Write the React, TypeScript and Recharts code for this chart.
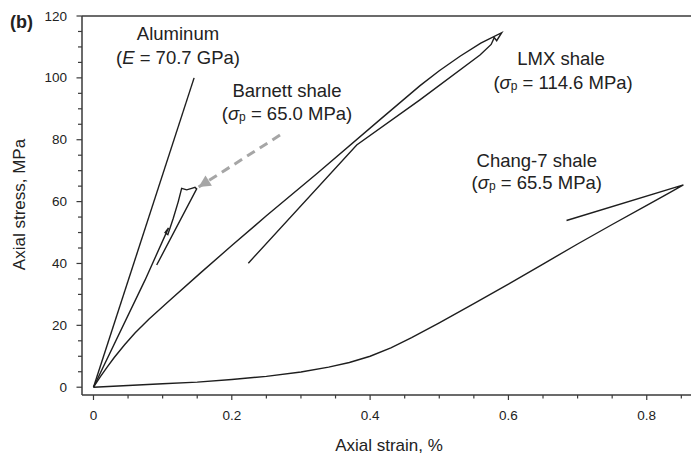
import React from 'react';
import { LineChart, Line, XAxis, YAxis, ReferenceLine, ReferenceDot } from 'recharts';

// ---- tick values & labels ----
const xMajorTicks = [0, 0.2, 0.4, 0.6, 0.8];
const xTickLabels = ['0', '0.2', '0.4', '0.6', '0.8'];
const xMinorTicks = [0.05, 0.1, 0.15, 0.25, 0.3, 0.35, 0.45, 0.5, 0.55, 0.65, 0.7, 0.75, 0.85];
const yMajorTicks = [0, 20, 40, 60, 80, 100, 120];
const yTickLabels = ['0', '20', '40', '60', '80', '100', '120'];
const yMinorTicks = [5, 10, 15, 25, 30, 35, 45, 50, 55, 65, 70, 75, 85, 90, 95, 105, 110, 115];

// ---- series (axial strain %, axial stress MPa) ----
const aluminumStrain = [0, 0.1455];
const aluminumStress = [0, 100];

const barnettStrain = [0, 0.0745, 0.1085, 0.1035, 0.1075, 0.1154, 0.1226, 0.1275, 0.1348, 0.142, 0.1468, 0.1492, 0.0914];
const barnettStress = [0, 34.6, 51.5, 50.0, 49.3, 54.6, 60.0, 64.3, 63.8, 64.3, 64.6, 64.1, 39.5];

const lmxStrain = [0, 0.01, 0.02, 0.03, 0.045, 0.06, 0.08, 0.11, 0.154, 0.2, 0.25, 0.3228, 0.4143, 0.4722, 0.5, 0.53, 0.56, 0.5903, 0.583, 0.5795, 0.575, 0.5589, 0.472, 0.3806, 0.2239];
const lmxStress = [0, 3.4, 6.6, 9.6, 13.7, 17.5, 22.0, 28.0, 36.8, 45.8, 55.4, 69.0, 86.5, 97.5, 102.3, 107.0, 111.2, 114.6, 112.0, 113.0, 110.8, 107.4, 92.9, 78.3, 40.1];

const changStrain = [0, 0.05, 0.1, 0.15, 0.2, 0.25, 0.3, 0.34, 0.37, 0.4, 0.43, 0.46, 0.5, 0.55, 0.6, 0.65, 0.7, 0.75, 0.8, 0.83, 0.853, 0.684];
const changStress = [0, 0.55, 1.1, 1.65, 2.5, 3.5, 4.9, 6.5, 8.0, 10.0, 12.7, 16.0, 20.8, 27.0, 33.3, 39.8, 46.3, 52.6, 58.8, 62.5, 65.4, 53.9];

const arrowStrain = [0.2697, 0.152];
const arrowStress = [81.5, 64.7];

const toPoints = (xs: number[], ys: number[]) => xs.map((x, i) => ({ x, y: ys[i] }));

const aluminumData = toPoints(aluminumStrain, aluminumStress);
const barnettData = toPoints(barnettStrain, barnettStress);
const lmxData = toPoints(lmxStrain, lmxStress);
const changData = toPoints(changStrain, changStress);
const arrowData = toPoints(arrowStrain, arrowStress);

// ---- styles ----
const FONT = '"Liberation Sans", Arial, Helvetica, sans-serif';
const AXIS = '#3a3a3a';
const TEXT = '#222';
const CURVE = '#1e1e1e';
const ARROW = '#a6a6a6';

const XTick = (props: any) => {
  const { x, y, payload } = props;
  const idx = xMajorTicks.indexOf(payload.value);
  const major = idx >= 0;
  return (
    <g>
      <line x1={x} x2={x} y1={y} y2={y + (major ? 5 : 3.5)} stroke={AXIS} strokeWidth={1.2} />
      {major && (
        <text x={x} y={y + 20} textAnchor="middle" dominantBaseline="central" fontSize={13.5} fontFamily={FONT} fill={TEXT}>
          {xTickLabels[idx]}
        </text>
      )}
    </g>
  );
};

const YTick = (props: any) => {
  const { x, y, payload } = props;
  const idx = yMajorTicks.indexOf(payload.value);
  const major = idx >= 0;
  return (
    <g>
      <line x1={x} x2={x - (major ? 5.5 : 4)} y1={y} y2={y} stroke={AXIS} strokeWidth={1.2} />
      {major && (
        <text x={x - 15} y={y} textAnchor="end" dominantBaseline="central" fontSize={13.5} fontFamily={FONT} fill={TEXT}>
          {yTickLabels[idx]}
        </text>
      )}
    </g>
  );
};

const ArrowHead = (props: any) => {
  const { cx, cy, index, points } = props;
  if (!points || index !== points.length - 1) return <g key={`ah-${index}`} />;
  const p0 = points[0];
  const dx = cx - p0.x;
  const dy = cy - p0.y;
  const len = Math.sqrt(dx * dx + dy * dy) || 1;
  const ux = dx / len;
  const uy = dy / len;
  const L = 12;
  const W = 6;
  const bx = cx - ux * L;
  const by = cy - uy * L;
  const pts = `${cx},${cy} ${bx - uy * W},${by + ux * W} ${bx + uy * W},${by - ux * W}`;
  return <polygon key={`ah-${index}`} points={pts} fill={ARROW} stroke="none" />;
};

const Sigma = ({ value }: { value: string }) => (
  <>
    (<tspan fontStyle="italic">σ</tspan>
    <tspan fontSize={12} dy={4}>p</tspan>
    <tspan dy={-4}>{' = ' + value + ' MPa)'}</tspan>
  </>
);

const makeLabel = (content: React.ReactNode) => (p: any) => (
  <text x={p.cx} y={p.cy} textAnchor="middle" dominantBaseline="central" fontSize={18.5} fontFamily={FONT} fill={TEXT}>
    {content}
  </text>
);

const annotations = [
  { key: 'al1', x: 0.1222, y: 114.5, content: 'Aluminum' },
  { key: 'al2', x: 0.1222, y: 106.7, content: (<>(<tspan fontStyle="italic">E</tspan>{' = 70.7 GPa)'}</>) },
  { key: 'ba1', x: 0.2798, y: 96.0, content: 'Barnett shale' },
  { key: 'ba2', x: 0.2798, y: 88.6, content: <Sigma value="65.0" /> },
  { key: 'lm1', x: 0.676, y: 106.4, content: 'LMX shale' },
  { key: 'lm2', x: 0.679, y: 98.6, content: <Sigma value="114.6" /> },
  { key: 'ch1', x: 0.641, y: 73.4, content: 'Chang-7 shale' },
  { key: 'ch2', x: 0.641, y: 66.3, content: <Sigma value="65.5" /> },
];

export default function App() {
  return (
    <div style={{ position: 'absolute', left: 0, top: 0, width: 691, height: 458, overflow: 'hidden', background: '#fff' }}>
      <div style={{ position: 'absolute', left: 10, top: 10, fontFamily: FONT, fontWeight: 'bold', fontSize: 18, color: TEXT, lineHeight: '24px' }}>
        (b)
      </div>
      <LineChart width={700} height={458} margin={{ top: 16, right: 0, bottom: 0, left: 0 }}>
        <XAxis
          dataKey="x"
          type="number"
          domain={[-0.0166, 0.877]}
          allowDataOverflow
          ticks={[...xMajorTicks, ...xMinorTicks]}
          interval={0}
          tick={<XTick />}
          tickLine={false}
          tickSize={0}
          tickMargin={0}
          height={63}
          axisLine={{ stroke: AXIS, strokeWidth: 1.5 }}
          label={{
            content: (p: any) => (
              <text x={p.viewBox.x + p.viewBox.width / 2 - 2} y={p.viewBox.y + 50} textAnchor="middle" dominantBaseline="central" fontSize={17} fontFamily={FONT} fill={TEXT}>
                Axial strain, %
              </text>
            ),
          }}
        />
        <YAxis
          dataKey="y"
          type="number"
          domain={[-2.52, 120]}
          allowDataOverflow
          ticks={[...yMajorTicks, ...yMinorTicks]}
          interval={0}
          tick={<YTick />}
          tickLine={false}
          tickSize={0}
          tickMargin={0}
          width={82}
          axisLine={{ stroke: AXIS, strokeWidth: 1.5 }}
          label={{
            content: (p: any) => (
              <text transform={`translate(19, ${p.viewBox.y + p.viewBox.height / 2 - 1}) rotate(-90)`} textAnchor="middle" dominantBaseline="central" fontSize={17} fontFamily={FONT} fill={TEXT}>
                Axial stress, MPa
              </text>
            ),
          }}
        />
        <ReferenceLine y={120} stroke={AXIS} strokeWidth={1.5} />
        <Line data={aluminumData} dataKey="y" type="linear" stroke={CURVE} strokeWidth={1.4} dot={false} isAnimationActive={false} />
        <Line data={barnettData} dataKey="y" type="linear" stroke={CURVE} strokeWidth={1.4} dot={false} isAnimationActive={false} />
        <Line data={lmxData} dataKey="y" type="linear" stroke={CURVE} strokeWidth={1.4} dot={false} isAnimationActive={false} />
        <Line data={changData} dataKey="y" type="linear" stroke={CURVE} strokeWidth={1.4} dot={false} isAnimationActive={false} />
        <Line data={arrowData} dataKey="y" type="linear" stroke={ARROW} strokeWidth={3} strokeDasharray="9 6" dot={<ArrowHead />} isAnimationActive={false} />
        {annotations.map((a) => (
          <ReferenceDot key={a.key} x={a.x} y={a.y} r={0} shape={makeLabel(a.content)} />
        ))}
      </LineChart>
    </div>
  );
}
